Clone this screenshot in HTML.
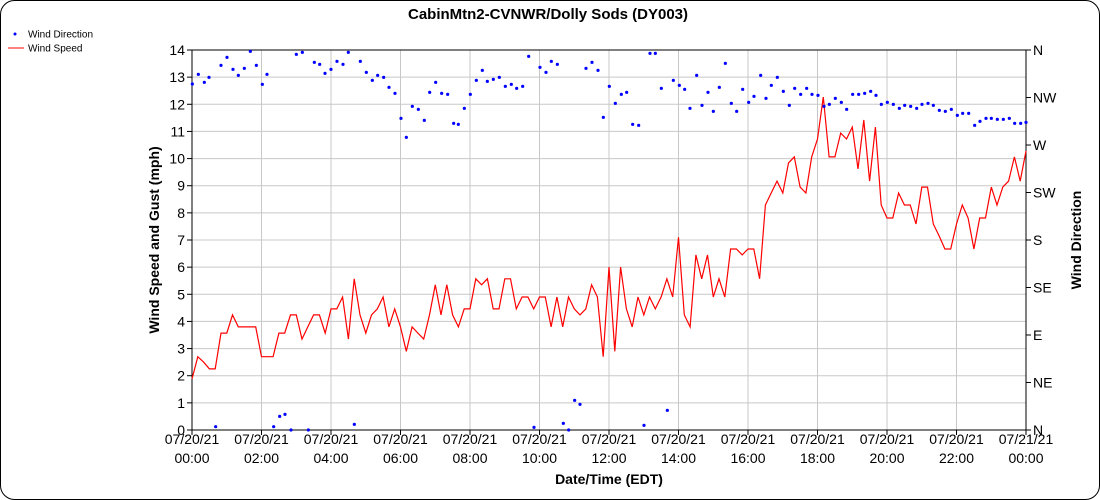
<!DOCTYPE html>
<html><head><meta charset="utf-8"><style>
html,body{margin:0;padding:0;background:#fff;}
svg{display:block;font-family:"Liberation Sans",Arial,sans-serif;}
</style></head><body>
<svg id="s" width="1100" height="500" xmlns="http://www.w3.org/2000/svg">
<rect x="0.5" y="0.5" width="1099" height="499" rx="14" fill="#fff" stroke="#000"/>
<text x="548" y="19" text-anchor="middle" font-size="15" font-weight="bold">CabinMtn2-CVNWR/Dolly Sods (DY003)</text>
<circle cx="15" cy="34" r="1.5" fill="#00f"/>
<text x="28" y="37.5" font-size="10">Wind Direction</text>
<line x1="8" y1="48" x2="24" y2="48" stroke="#f00"/>
<text x="28" y="51.5" font-size="10">Wind Speed</text>
<g id="grid" stroke="#c8c8c8" stroke-width="1"></g>
<g id="axes" stroke="#000" stroke-width="1"></g>
<g id="lbl" font-size="14"></g>
<polyline id="ws" fill="none" stroke="#f00" stroke-width="1.2"/>
<g id="wd" fill="#00f"></g>
<text transform="translate(159,240) rotate(-90)" text-anchor="middle" font-size="14" font-weight="bold">Wind Speed and Gust (mph)</text>
<text transform="translate(1081,240) rotate(-90)" text-anchor="middle" font-size="14" font-weight="bold">Wind Direction</text>
<text x="609" y="484" text-anchor="middle" font-size="14" font-weight="bold">Date/Time (EDT)</text>
</svg>
<script>
var NS="http://www.w3.org/2000/svg";
function el(p,t,a,txt){var e=document.createElementNS(NS,t);for(var k in a)e.setAttribute(k,a[k]);if(txt!==undefined)e.textContent=txt;document.getElementById(p).appendChild(e);return e;}
var L=192,R=1026,T=50,B=430;
for(var i=0;i<=14;i++){var y=B-i*(B-T)/14;
 if(i>0&&i<14)el("grid","line",{x1:L,x2:R,y1:y,y2:y});
 el("axes","line",{x1:L-5,x2:L,y1:y,y2:y});
 el("lbl","text",{x:L-7,y:y+5,"text-anchor":"end"},String(i));}
var dirs=["N","NE","E","SE","S","SW","W","NW","N"];
for(var i=0;i<=8;i++){var y=B-i*(B-T)/8;
 el("axes","line",{x1:R,x2:R+5,y1:y,y2:y});
 el("lbl","text",{x:R+7,y:y+5},dirs[i]);}
for(var i=0;i<=12;i++){var x=L+i*(R-L)/12;
 if(i>0&&i<12)el("grid","line",{x1:x,x2:x,y1:T,y2:B});
 el("axes","line",{x1:x,x2:x,y1:B,y2:B+5});
 var h=(i*2)%24;var d=i==12?"07/21/21":"07/20/21";
 el("lbl","text",{x:x,y:444,"text-anchor":"middle"},d);
 el("lbl","text",{x:x,y:463,"text-anchor":"middle"},(h<10?"0":"")+h+":00");}
el("axes","rect",{x:L,y:T,width:R-L,height:B-T,fill:"none"});
var v=[1.88,2.7,2.5,2.25,2.25,3.57,3.57,4.24,3.8,3.8,3.8,3.8,2.7,2.7,2.7,3.57,3.57,4.24,4.24,3.35,3.8,4.24,4.24,3.57,4.46,4.46,4.9,3.35,5.57,4.24,3.57,4.24,4.46,4.9,3.8,4.46,3.8,2.9,3.8,3.57,3.35,4.24,5.35,4.24,5.35,4.24,3.8,4.46,4.46,5.57,5.35,5.57,4.46,4.46,5.57,5.57,4.46,4.9,4.9,4.46,4.9,4.9,3.8,4.9,3.8,4.9,4.46,4.24,4.46,5.35,4.9,2.7,6.0,2.9,6.0,4.46,3.8,4.9,4.24,4.9,4.46,4.9,5.57,4.9,7.1,4.24,3.8,6.45,5.57,6.45,4.9,5.57,4.9,6.67,6.67,6.45,6.67,6.67,5.57,8.29,8.73,9.17,8.73,9.84,10.06,8.95,8.73,10.06,10.72,12.27,10.06,10.06,10.94,10.72,11.16,9.62,11.42,9.17,11.16,8.29,7.81,7.81,8.73,8.29,8.29,7.59,8.95,8.95,7.59,7.15,6.67,6.67,7.59,8.29,7.81,6.67,7.81,7.81,8.95,8.29,8.95,9.17,10.06,9.17,10.28];
var pts=[];for(var i=0;i<v.length;i++)pts.push((L+i*(R-L)/144).toFixed(1)+","+(B-v[i]*(B-T)/14).toFixed(1));
document.getElementById("ws").setAttribute("points",pts.join(" "));
function addz(ox,arr){for(var i=0;i<arr.length;i+=2)el("wd","circle",{cx:ox+arr[i]/3,cy:40+arr[i+1]/3,r:1.6});}
addz(185,[22,132,40,103,58,127,72,112,92,1160,108,76,126,52,144,88,160,106,178,85,196,34,214,76,232,133,246,103,266,1160,284,1129,300,1123,318,1170,334,43,352,37,370,1170,388,67,404,73,420,100,438,88,456,64,474,73,490,37,508,1153,526,64,544,97,562,121,578,106,596,112,612,142,630,160,648,235,664,292,682,199,700,208,718,241,734,157,752,127,770,160,788,163,806,250,820,253,838,205,856,163,874,121,892,91]);
addz(470,[52,124,70,118,88,112,106,139,124,133,140,145,158,139,176,49,192,1162,210,82,228,97,244,64,262,73,280,1150,296,1170,314,1081,330,1093,348,85,366,67,384,91,400,232,418,139,436,190,454,163,470,157,488,253,506,256,522,1156,540,40,556,40,574,145,592,1111,610,121,628,136,644,148,660,205,680,106,696,196,714,157,730,214,748,142,766,70,784,190,800,214,818,148,836,187,852,169,872,106,888,175]);
addz(750,[64,136,82,112,100,154,118,196,134,145,152,163,170,145,186,163,204,166,222,199,238,193,256,175,274,187,290,208,308,163,326,163,344,160,362,154,378,166,394,193,412,187,430,193,448,205,464,196,482,199,500,205,516,193,534,190,550,196,568,211,586,214,604,208,622,226,638,220,656,220,674,256,690,244,708,235,724,235,742,238,760,238,778,235,794,250,812,250,828,247]);
</script>
</body></html>
